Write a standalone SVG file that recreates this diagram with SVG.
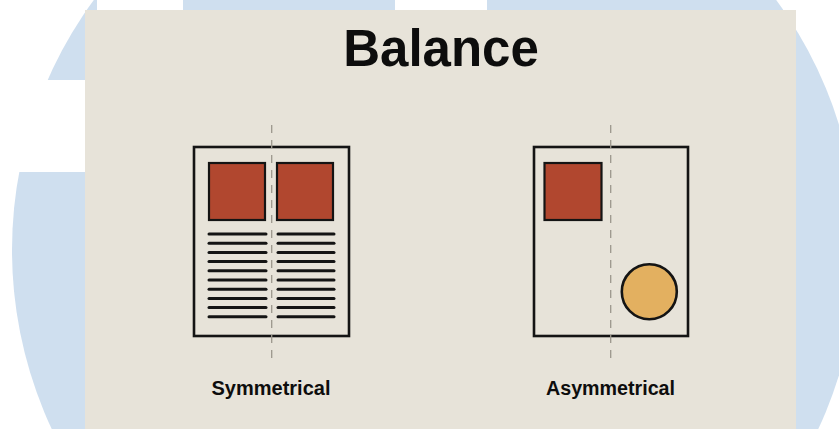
<svg xmlns="http://www.w3.org/2000/svg" width="839" height="429" viewBox="0 0 839 429">
  <style>
    .frame { fill: none; stroke: #141414; stroke-width: 2.6; }
    .red { fill: #b1472f; stroke: #141414; stroke-width: 2.2; }
    .gold { fill: #e3b060; stroke: #141414; stroke-width: 2.6; }
    .txt { stroke: #141414; stroke-width: 3; stroke-linecap: round; }
    .axis { stroke: #9c978d; stroke-width: 1.3; stroke-dasharray: 8 7; fill: none; }
    .title { font-family: "Liberation Sans", Arial, sans-serif; font-weight: bold; fill: #0d0d0d; }
  </style>
  <rect x="0" y="0" width="839" height="429" fill="#ffffff"/>
  <circle cx="435" cy="250" r="423" fill="#cfdfef"/>
  <rect x="0" y="80" width="86" height="92" fill="#ffffff"/>
  <rect x="97" y="0" width="86" height="12" fill="#ffffff"/>
  <rect x="395" y="0" width="92" height="12" fill="#ffffff"/>
  <rect x="85" y="10" width="711" height="419" fill="#e7e3d9"/>

  <g id="title">
    <text class="title" x="441" y="66" font-size="51" text-anchor="middle">Balance</text>
  </g>

  <g id="symmetrical">
    <rect class="frame" x="194" y="147" width="155" height="189" fill="#e9e5dc"/>
    <rect class="red" x="209" y="163" width="56" height="57"/>
    <rect class="red" x="277" y="163" width="56" height="57"/>
    <g class="txt">
      <line x1="209" y1="234" x2="266" y2="234"/><line x1="278" y1="234" x2="334" y2="234"/>
      <line x1="209" y1="243.2" x2="266" y2="243.2"/><line x1="278" y1="243.2" x2="334" y2="243.2"/>
      <line x1="209" y1="252.4" x2="266" y2="252.4"/><line x1="278" y1="252.4" x2="334" y2="252.4"/>
      <line x1="209" y1="261.6" x2="266" y2="261.6"/><line x1="278" y1="261.6" x2="334" y2="261.6"/>
      <line x1="209" y1="270.8" x2="266" y2="270.8"/><line x1="278" y1="270.8" x2="334" y2="270.8"/>
      <line x1="209" y1="280" x2="266" y2="280"/><line x1="278" y1="280" x2="334" y2="280"/>
      <line x1="209" y1="289.2" x2="266" y2="289.2"/><line x1="278" y1="289.2" x2="334" y2="289.2"/>
      <line x1="209" y1="298.4" x2="266" y2="298.4"/><line x1="278" y1="298.4" x2="334" y2="298.4"/>
      <line x1="209" y1="307.6" x2="266" y2="307.6"/><line x1="278" y1="307.6" x2="334" y2="307.6"/>
      <line x1="209" y1="316.8" x2="266" y2="316.8"/><line x1="278" y1="316.8" x2="334" y2="316.8"/>
    </g>
    <line class="axis" x1="271.7" y1="125" x2="271.7" y2="358"/>
    <text class="title" x="271" y="395" font-size="20" text-anchor="middle" textLength="119" lengthAdjust="spacingAndGlyphs">Symmetrical</text>
  </g>

  <g id="asymmetrical">
    <rect class="frame" x="534" y="147" width="154" height="189" fill="#e9e5dc"/>
    <rect class="red" x="544.5" y="163" width="57" height="57"/>
    <circle class="gold" cx="649.3" cy="291.7" r="27.5"/>
    <line class="axis" x1="610.7" y1="125" x2="610.7" y2="358"/>
    <text class="title" x="610.5" y="395" font-size="20" text-anchor="middle" textLength="129" lengthAdjust="spacingAndGlyphs">Asymmetrical</text>
  </g>

  <g id="connectors"></g>
</svg>
